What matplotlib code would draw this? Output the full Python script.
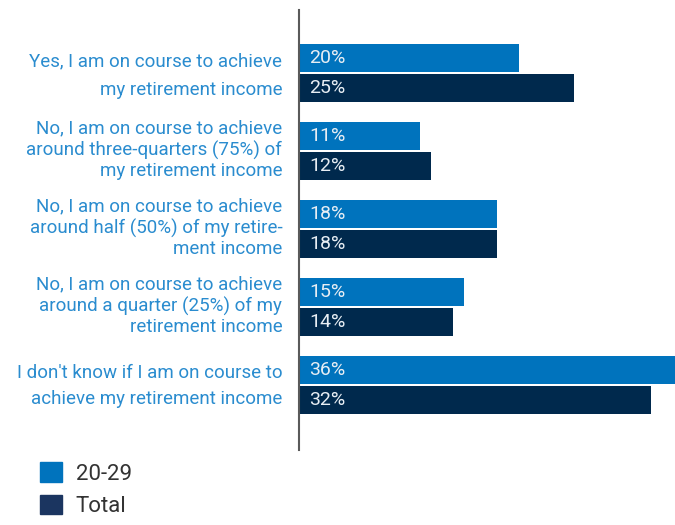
import matplotlib
matplotlib.use("Agg")
import matplotlib.pyplot as plt
from matplotlib.patches import Patch
from matplotlib.transforms import ScaledTranslation

categories = [
    "Yes, I am on course to achieve\nmy retirement income",
    "No, I am on course to achieve\naround three-quarters (75%) of\nmy retirement income",
    "No, I am on course to achieve\naround half (50%) of my retire-\nment income",
    "No, I am on course to achieve\naround a quarter (25%) of my\nretirement income",
    "I don't know if I am on course to\nachieve my retirement income",
]
series_names = ["20-29", "Total"]
age_20_29 = [20, 11, 18, 15, 36]
total = [25, 12, 18, 14, 32]

blue = "#0073bd"
navy = "#00294d"
legend_navy = "#1b3560"
label_blue = "#2a8ccf"

plt.rcParams["font.family"] = ["Roboto", "DejaVu Sans"]

fig = plt.figure(figsize=(6.75, 5.25), dpi=100)
W, H = 675, 525
ax = fig.add_axes([299 / W, (H - 450) / H, (W - 299) / W, 440 / H])

pos = list(range(len(categories)))
bh = 0.36
off = 0.195
b1 = ax.barh([p - off for p in pos], age_20_29, height=bh, color=blue)
b2 = ax.barh([p + off for p in pos], total, height=bh, color=navy)

for bars, vals in ((b1, age_20_29), (b2, total)):
    for rect, v in zip(bars, vals):
        ax.text(0.9, rect.get_y() + rect.get_height() / 2, f"{v}%",
                va="center", ha="left", color="#e8eef4", fontsize=14)

ax.set_xlim(0, 376 / 11)
ax.set_ylim((450 - 73) / 78, (10 - 73) / 78)

ax.set_yticks(pos)
ax.set_yticklabels(categories, color=label_blue, fontsize=13.5)
ax.tick_params(axis="y", length=0, pad=12)
ax.tick_params(axis="x", bottom=False, labelbottom=False)
ax.get_yticklabels()[0].set_linespacing(1.75)
ax.get_yticklabels()[4].set_linespacing(1.5)
shift = ScaledTranslation(0, 0.045, fig.dpi_scale_trans)
for lab in ax.get_yticklabels():
    lab.set_transform(lab.get_transform() + shift)

for s in ("top", "right", "bottom"):
    ax.spines[s].set_visible(False)
ax.spines["left"].set_color("#5a5a5a")
ax.spines["left"].set_linewidth(1.5)

handles = [Patch(color=blue), Patch(color=legend_navy)]
fig.legend(handles, series_names, loc="upper left",
           bbox_to_anchor=(20 / W, 1 - 442 / H), frameon=False,
           fontsize=16, handlelength=1.0, handleheight=1.0,
           handletextpad=0.6, labelspacing=0.45, labelcolor="#333333")

fig.savefig("out.png", dpi=100)
